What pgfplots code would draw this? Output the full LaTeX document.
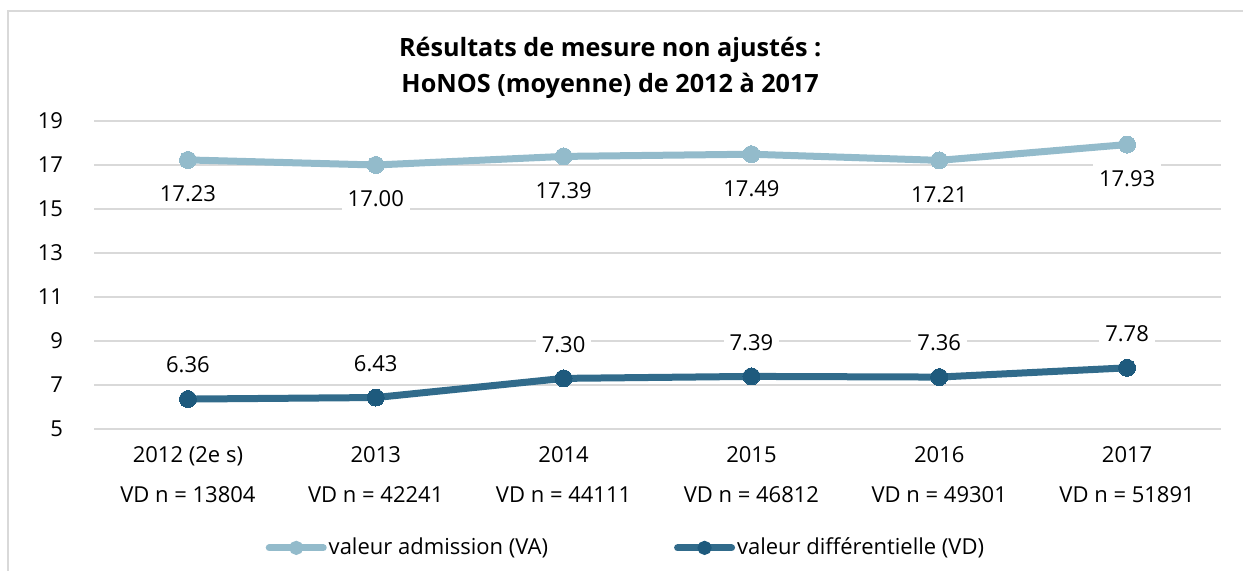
\documentclass[border=0pt]{standalone}
\usepackage{pgfplots}
\pgfplotsset{compat=1.18}
\usepackage{fontspec}
\setmainfont{Open Sans}
\definecolor{va}{RGB}{147,187,203}
\definecolor{vdl}{RGB}{49,107,139}
\definecolor{vdm}{RGB}{30,90,125}
\definecolor{gridc}{RGB}{217,217,217}
\begin{document}
\begin{tikzpicture}
\useasboundingbox (0,0) rectangle (621.5pt,285.5pt);
\draw[gridc, line width=1pt] (4pt,0) -- (4pt,280pt) -- (621.5pt,280pt);
\begin{axis}[
 at={(47pt,71pt)}, anchor=south west,
 scale only axis, width=563.5pt, height=154pt,
 xmin=-0.5, xmax=5.5, ymin=5, ymax=19,
 ytick={5,7,...,19},
 xtick={0,1,2,3,4,5},
 xticklabels={{2012 (2e s)\\VD n = 13804},{2013\\VD n = 42241},{2014\\VD n = 44111},{2015\\VD n = 46812},{2016\\VD n = 49301},{2017\\VD n = 51891}},
 axis line style={draw=none},
 major tick length=0pt,
 ymajorgrids, grid style={gridc, line width=0.75pt},
 font=\fontsize{11}{13}\selectfont,
 yticklabel style={xshift=-12pt},
 xticklabel style={align=center, font=\fontsize{11}{20}\selectfont, yshift=-5pt},
 /pgf/number format/assume math mode=true,
 clip=false,
 title={Résultats de mesure non ajustés :\\[1.5pt]HoNOS (moyenne) de 2012 à 2017},
 title style={at={(axis description cs:0.458,1.133)}, anchor=center, align=center, font=\bfseries\fontsize{12.6}{16.5}\selectfont},
 legend style={at={(axis description cs:0.472,-0.386)}, anchor=center, draw=none, fill=none, font=\fontsize{11}{13}\selectfont, /tikz/every even column/.append style={column sep=62pt}, nodes={inner xsep=1pt}},
 legend columns=2,
]
\addplot[va, line width=3.5pt, mark=*, mark size=4.25pt, mark options={line width=0pt, draw=va, fill=va},
 nodes near coords={\pgfmathprintnumber[fixed,fixed zerofill,precision=2]{\pgfplotspointmeta}},
 every node near coord/.style={fill=white, text=black, anchor=center, yshift=-17pt, inner sep=3pt, font=\fontsize{11}{13}\selectfont},
 legend image code/.code={\draw[va, line width=3.5pt, line cap=round] (0pt,0pt) -- (27pt,0pt); \fill[va] (13.5pt,0pt) circle (1.7pt);}]
 coordinates {(0,17.23)(1,17.00)(2,17.39)(3,17.49)(4,17.21)(5,17.93)};
\addlegendentry{valeur admission (VA)}
\addplot[vdl, line width=3.5pt, mark=*, mark size=4.25pt, mark options={line width=0pt, draw=vdm, fill=vdm},
 nodes near coords={\pgfmathprintnumber[fixed,fixed zerofill,precision=2]{\pgfplotspointmeta}},
 every node near coord/.style={fill=white, text=black, anchor=center, yshift=17pt, inner sep=3pt, font=\fontsize{11}{13}\selectfont},
 legend image code/.code={\draw[vdl, line width=3.5pt, line cap=round] (0pt,0pt) -- (27pt,0pt); \fill[vdm] (13.5pt,0pt) circle (1.7pt);}]
 coordinates {(0,6.36)(1,6.43)(2,7.30)(3,7.39)(4,7.36)(5,7.78)};
\addlegendentry{valeur différentielle (VD)}
\end{axis}
\end{tikzpicture}
\end{document}
